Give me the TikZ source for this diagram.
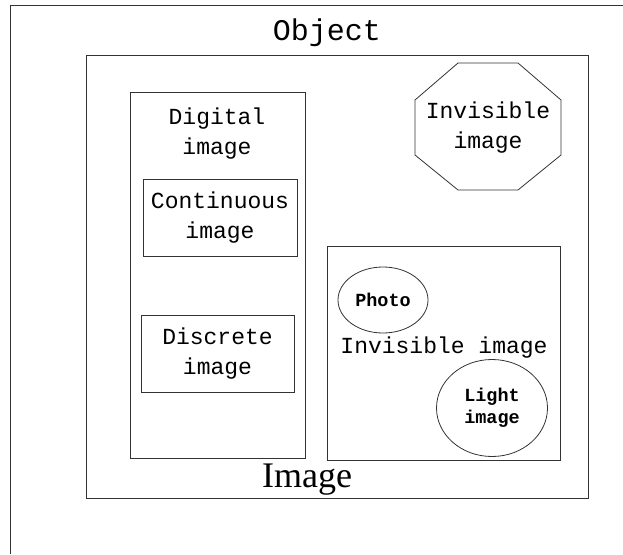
\documentclass[tikz,border=0pt]{standalone}
\usepackage{fontspec}
\setmainfont{Liberation Serif}
\newfontfamily\monof{Liberation Mono}
\usetikzlibrary{shapes.geometric}
\begin{document}
\begin{tikzpicture}[x=1pt,y=-1pt,line width=0.8pt,
  box/.style={draw=black!80, inner sep=0pt},
  oval/.style={draw=black!80, ellipse, inner sep=0pt},
  lbl/.style={font=\monof\fontsize{23}{30}\selectfont, align=center, inner sep=0pt},
  small/.style={font=\monof\bfseries\fontsize{18.5}{22}\selectfont, align=center, inner sep=0pt}]
\useasboundingbox (0,0) rectangle (623,554);
\draw[black!80] (623,5) -- (10,5) -- (10,554);
\node[font=\monof\fontsize{30}{36}\selectfont, inner sep=0pt] (obj) at (327,33) {Object};
\node[box, minimum width=502pt, minimum height=443pt] (img) at (337,276.5) {};
\node[font=\fontsize{36}{40}\selectfont, inner sep=0pt] (imglbl) at (307,480) {Image};
% digital
\node[box, minimum width=175pt, minimum height=366pt] (dig) at (217.5,275) {};
\node[lbl] (diglbl) at (217,134) {Digital\\image};
\node[box, minimum width=154pt, minimum height=77pt, lbl] (cont) at (220,217.5) {Continuous\\image};
\node[box, minimum width=153pt, minimum height=77pt, lbl] (disc) at (217.5,353.5) {Discrete\\image};
% octagon
\coordinate (oc) at (488,128);
\draw[black!80] (458,63) -- (518,63) -- (561,100) -- (561,155) -- (518,190) -- (458,190) -- (415,155) -- (415,100) -- cycle;
\node[lbl] (octlbl) at (oc) {Invisible\\image};
% invisible box
\node[box, minimum width=233pt, minimum height=214pt] (inv) at (443.5,353) {};
\node[lbl] (invlbl) at (444,348) {Invisible image};
\node[oval, minimum width=90pt, minimum height=66pt, small] (photo) at (383,300) {Photo};
\node[oval, minimum width=111pt, minimum height=97pt, small] (light) at (492,408) {Light\\image};
\end{tikzpicture}
\end{document}
